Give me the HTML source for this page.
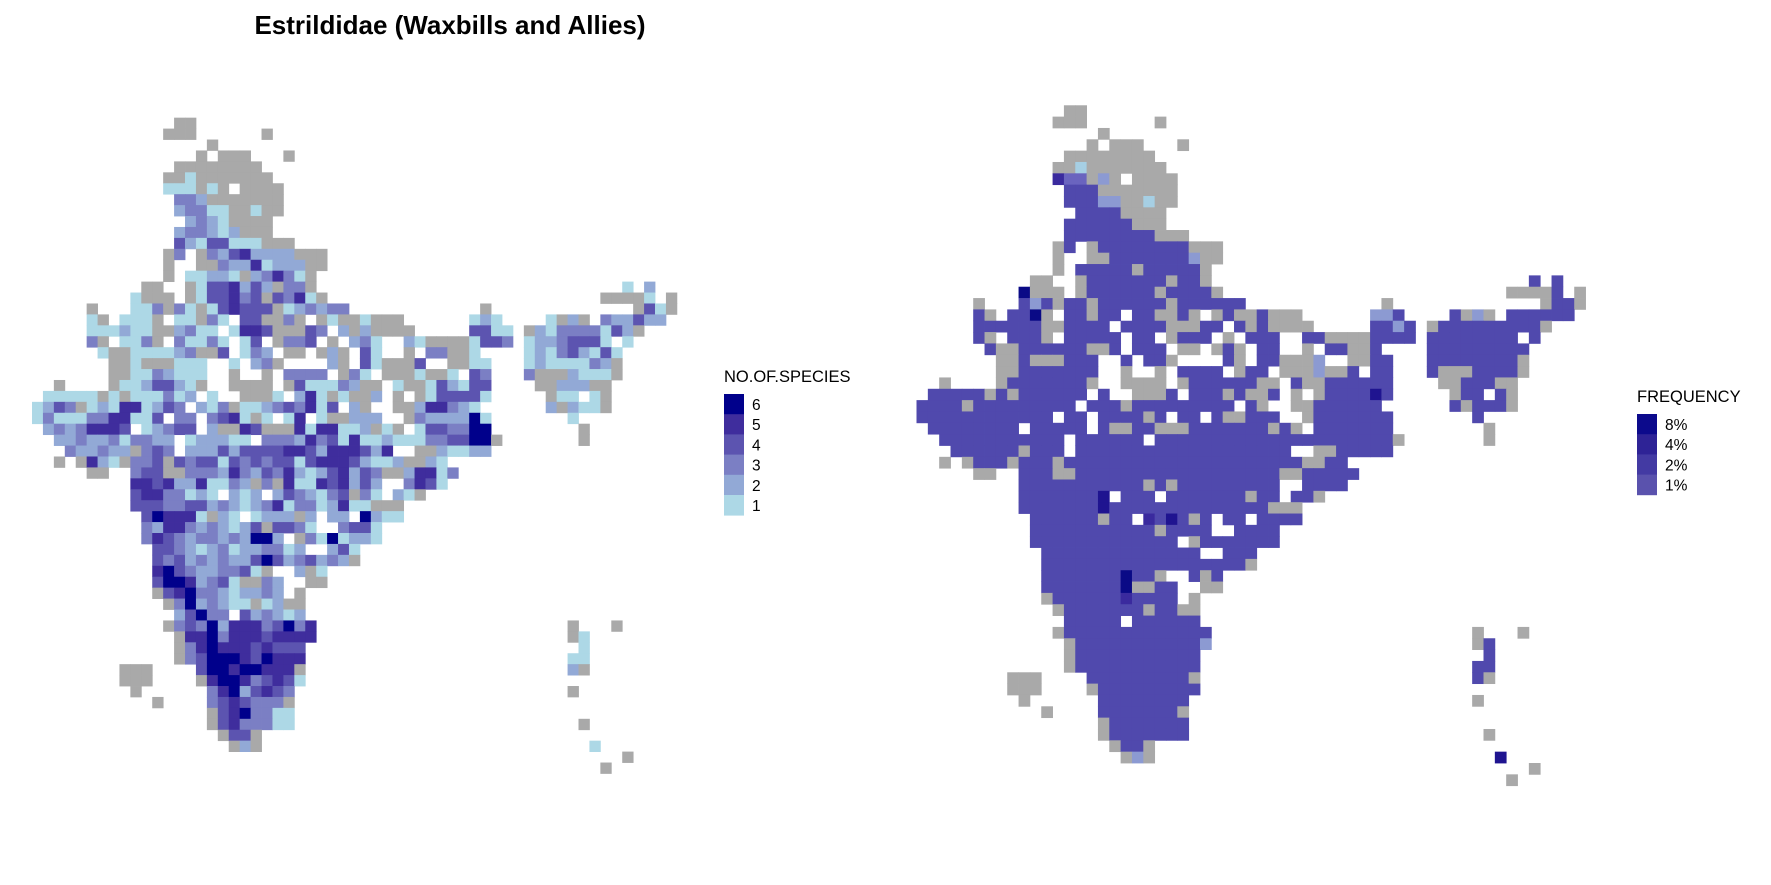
<!DOCTYPE html>
<html><head><meta charset="utf-8">
<style>
html,body{margin:0;padding:0;background:#fff;}
svg{display:block;font-family:"Liberation Sans",Arial,sans-serif;}
</style></head>
<body>
<svg id="chart" width="1771" height="885" viewBox="0 0 1771 885">
<text x="450" y="34" text-anchor="middle" font-size="26" font-weight="bold">Estrildidae (Waxbills and Allies)</text>
<g id="leftmap"></g>
<g id="rightmap"></g>
<g id="legend1"></g>
<g id="legend2"></g>
</svg>
<script>
// Grid rows: "startCol:cells|startCol:cells"; g = no species (grey), . = gap, 1-6 = species count
const speciesRows = [
"","",
"13:gg",
"12:ggg|21:g",
"16:g",
"15:g.ggg|23:g",
"13:gggggggg",
"12:gg1ggggggg",
"12:111g1g.gggg",
"13:332ggggggg",
"13:23311gg1gg",
"14:2321gggg",
"13:233212ggg",
"13:42144111ggg",
"12:g3.g32452222ggg",
"12:g..gg32251222gg",
"12:g.11221g23531g",
"10:gg..g1445242g33g|54:1.2",
"9:1ggg.g144534g4351g|52:gggg1.g",
"5:g...113g31g145444g123233|41:g|55:g41g",
"5:1g.111g.11g31.44gg3g.g1gg1ggg|40:121|47:1g2g.322422",
"5:111211gg2311.1554ggg43.2g2gggg|40:4411|45:g213333142g",
"5:3g.113g.31131.14.g334.g.231..21gggg1443|45:12234441.1",
"6:1gg111123gg4.132.gg.g2g.41..g.33gg1|45:121342141",
"7:gg1ggg111..1.23g....2g.41ggg4..gg11|45:12111132g",
"7:gg1132111..g..g.3333.g31.ggg1gg1.43|45:3ggg2111g",
"2:g|6:.g1124421g..gggg.g411132gg.1gg142144|46:gg222gg",
"1:11111g1g111312.1..ggg1.251g1gg2.g.g144441|47:g11.1g",
"0:1243g121551243.213g112343514.2g..gg255321|47:2g211g",
"0:131113355114.33.3451g1.15.1gg222..g3222261|49:1.",
"1:23235554.12344.2gg54ggg5155112g1g.1443366|50:g",
"2:22322313322.122211.333253415112111334466g|50:g",
"3:322322g343.2224244445542555425..gg21122",
"2:g.g521g334g434414343441455542112gg21",
"5:gg|9:344gg333253243521245243gg25513",
"9:55452251132g3g511545242..3541",
"9:45533121.212.2432134g31.21g",
"9:4443344232123513312511ggg",
"10:465551g21.1222g2.22.6211",
"10:32553232124g4431..3441",
"10:3543233232662.g3161221",
"11:44321231223312..241",
"11:434232322464234232g",
"11:5643223341g..2g1",
"11:46652341gg32..gg",
"11:g45633212232.g",
"12:g3623211g12gg",
"13:24633.423212",
"12:g3436255534635|49:g|53:g",
"13:g556355545555|49:g1",
"13:g35655545444|50:1",
"13:g34666546555|49:11",
"8:ggg|15:466566555g|49:2g",
"8:ggg|15:g566534541",
"9:g|16:35624543|49:g",
"11:g|16:3454333g",
"16:g4563311",
"16:g4533311|50:g",
"17:g44g",
"18:g2g|51:1",
"54:g",
"52:g"
];
// Frequency map: cells deviating from the typical ~1% shade
const freqRowIdx = [18,20,19,24,24,15,12,10,10,10,8,24,25,27,20,20,20,20,21,36,37,38,38,43,44,45,40,59,59,49,7,8,8,8];
const freqColIdx = [9,10,10,24,32,24,19,20,16,17,16,35,35,40,49,50,40,41,42,16,16,22,20,18,18,18,32,51,19,25,14,13,14,12];
const freqLevel  = ["f","f","p","e","e","p","l","l","p","p","p","p","p","e","p","p","p","p","p","e","e","e","d","f","f","d","l","e","p","p","l","a","a","d"];
const speciesLabels = ["6","5","4","3","2","1"];
const freqLabels = ["8%","4%","2%","1%"];

const NS="http://www.w3.org/2000/svg";
const speciesColor={"1":"#add8e6","2":"#92a9d6","3":"#7b7fc4","4":"#5c54b0","5":"#3f2d9d","6":"#00008b","g":"#a9a9a9"};
const freqColor={"l":"#a6cfe4","p":"#8c9ad2","a":"#6a64bf","b":"#5049ad","d":"#3a2a9e","e":"#1f1490","f":"#0a0a86","g":"#a9a9a9"};
const LEFT={x0:32,y0:95.8,s:10.93};
const RIGHT={x0:916.5,y0:82.6,s:11.34};

function parseCells(){
  const cells=[];
  speciesRows.forEach((row,r)=>{
    if(!row) return;
    row.split("|").forEach(seg=>{
      const [st,str]=seg.split(":");
      const c0=parseInt(st,10);
      for(let i=0;i<str.length;i++){
        const ch=str[i];
        if(ch==="."||ch===" ") continue;
        cells.push({r:r,c:c0+i,v:ch});
      }
    });
  });
  return cells;
}
const cells=parseCells();
const freqMap={};
freqRowIdx.forEach((r,i)=>{freqMap[r+","+freqColIdx[i]]=freqLevel[i];});

function drawMap(g,geo,colorFn,name){
  cells.forEach(cell=>{
    const rect=document.createElementNS(NS,"rect");
    rect.setAttribute("x",(geo.x0+geo.s*cell.c).toFixed(2));
    rect.setAttribute("y",(geo.y0+geo.s*cell.r).toFixed(2));
    rect.setAttribute("width",(geo.s+0.4).toFixed(2));
    rect.setAttribute("height",(geo.s+0.4).toFixed(2));
    rect.setAttribute("fill",colorFn(cell));
    
    
    g.appendChild(rect);
  });
}
drawMap(document.getElementById("leftmap"),LEFT,c=>speciesColor[c.v],"species-cell");
drawMap(document.getElementById("rightmap"),RIGHT,c=>{
  if(c.v==="g") return freqColor.g;
  const k=freqMap[c.r+","+c.c];
  return freqColor[k||"b"];
},"frequency-cell");

function legend(g,x,ty,title,labels,colors,tname){
  const t=document.createElementNS(NS,"text");
  t.setAttribute("x",x);t.setAttribute("y",ty);t.setAttribute("font-size","16.5");
  t.textContent=title;
  
  
  g.appendChild(t);
  labels.forEach((lab,i)=>{
    const y=ty+12+20.2*i;
    const r=document.createElementNS(NS,"rect");
    r.setAttribute("x",x);r.setAttribute("y",y.toFixed(1));
    r.setAttribute("width","20");r.setAttribute("height","20.6");
    r.setAttribute("fill",colors[i]);
    
    
    g.appendChild(r);
    const tx=document.createElementNS(NS,"text");
    tx.setAttribute("x",x+28);tx.setAttribute("y",(y+16).toFixed(1));
    tx.setAttribute("font-size","15.5");
    tx.textContent=lab;
    
    
    g.appendChild(tx);
  });
}
legend(document.getElementById("legend1"),724,382,"NO.OF.SPECIES",speciesLabels,
  ["#00008b","#3f2d9d","#5c54b0","#7b7fc4","#92a9d6","#add8e6"],"species-legend-title");
legend(document.getElementById("legend2"),1637,402,"FREQUENCY",freqLabels,
  ["#0c0a8c","#2e2396","#433aa3","#5a52ad"],"frequency-legend-title");
</script>
</body></html>
